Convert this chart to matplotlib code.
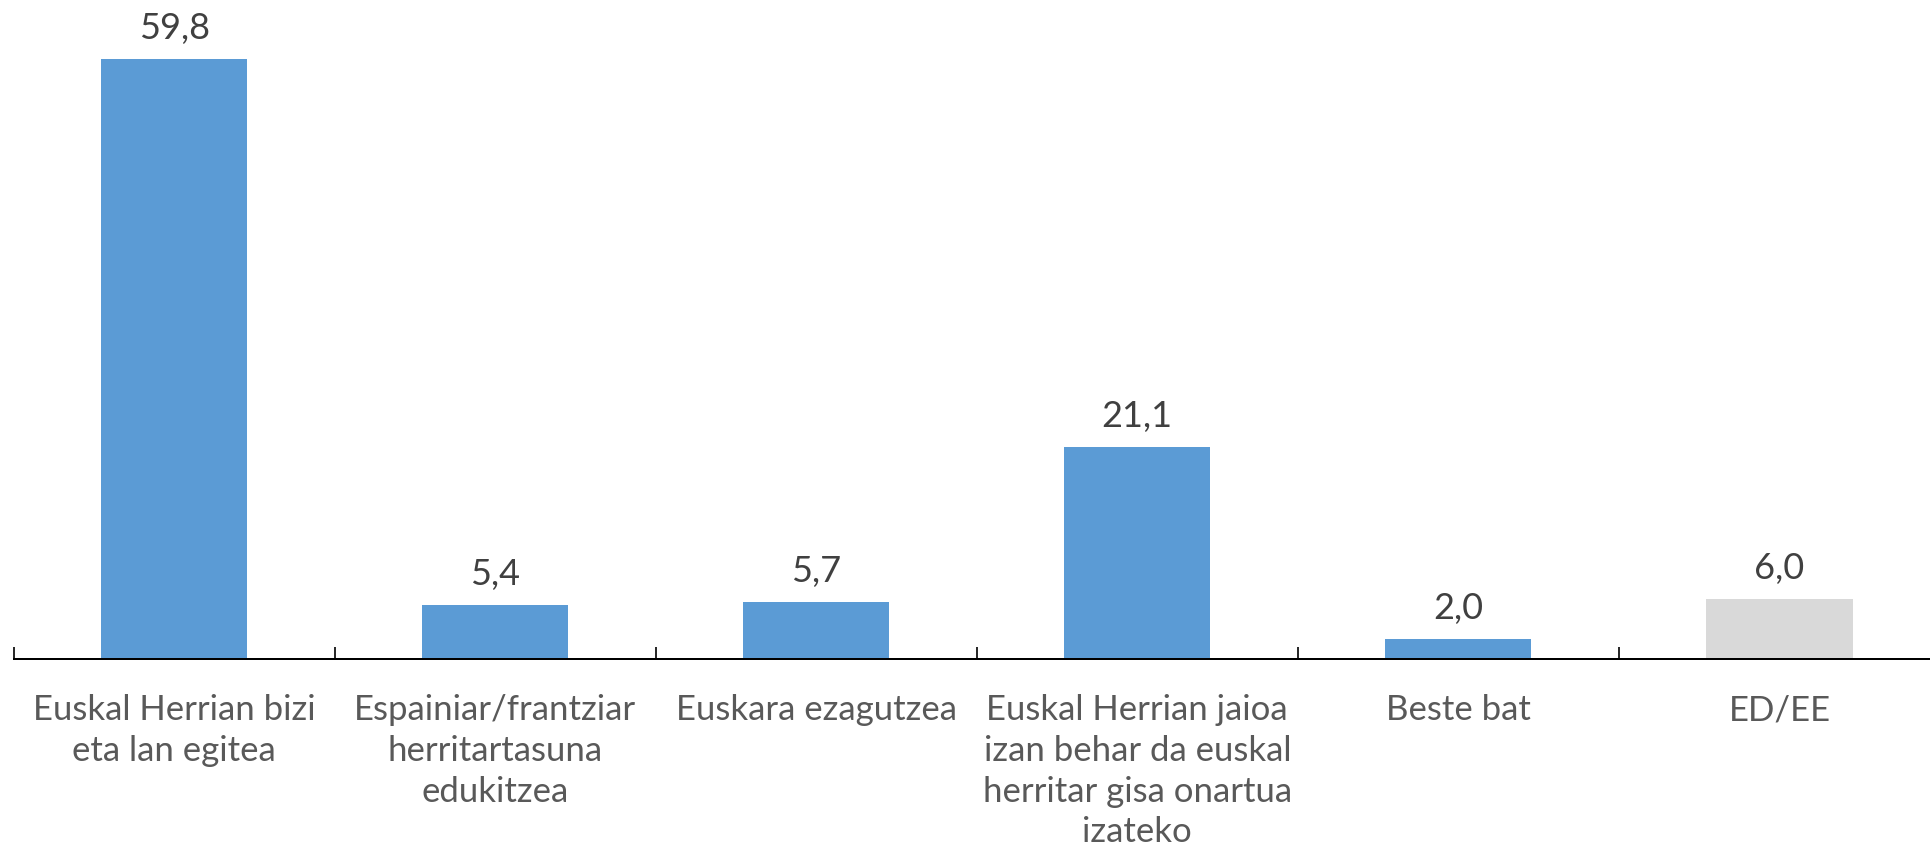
import matplotlib
matplotlib.use("Agg")
import matplotlib.pyplot as plt
import numpy as np

# %% data
categories = [
    "Euskal Herrian bizi\neta lan egitea",
    "Espainiar/frantziar\nherritartasuna\nedukitzea",
    "Euskara ezagutzea",
    "Euskal Herrian jaioa\nizan behar da euskal\nherritar gisa onartua\nizateko",
    "Beste bat",
    "ED/EE",
]
values = [59.8, 5.4, 5.7, 21.1, 2.0, 6.0]
bar_colors = ["#5B9BD5"] * 5 + ["#D9D9D9"]

# %% plot
plt.rcParams["font.family"] = ["Lato", "DejaVu Sans"]

DPI = 100
fig = plt.figure(figsize=(1931 / DPI, 858 / DPI), dpi=DPI)
ax = fig.add_axes([13.5 / 1931, 199 / 858, (1940 - 13.5) / 1931, 659 / 858])

x = np.arange(len(values))
ax.bar(x, values, width=0.455, color=bar_colors, zorder=2)

for xi, v in zip(x, values):
    ax.annotate(f"{v:.1f}".replace(".", ","), (xi, v), xytext=(0, 14.5),
                textcoords="offset points", ha="center", va="baseline",
                fontsize=26, color="#404040")

ax.set_xlim(-0.5, len(values) - 0.5)
ax.set_ylim(0, 65.7)

for side in ("top", "right", "left"):
    ax.spines[side].set_visible(False)
ax.spines["bottom"].set_linewidth(1.44)
ax.spines["bottom"].set_color("black")
ax.set_yticks([])

ax.set_xticks(x)
ax.set_xticklabels(categories, fontsize=25, color="#595959", linespacing=1.33)
ax.tick_params(axis="x", which="major", length=0, pad=25.5)
ax.set_xticks(np.arange(-0.5, len(values)), minor=True)
ax.tick_params(axis="x", which="minor", direction="in", length=8.6,
               width=1.2, color="black")

fig.savefig("out.png", dpi=DPI)
